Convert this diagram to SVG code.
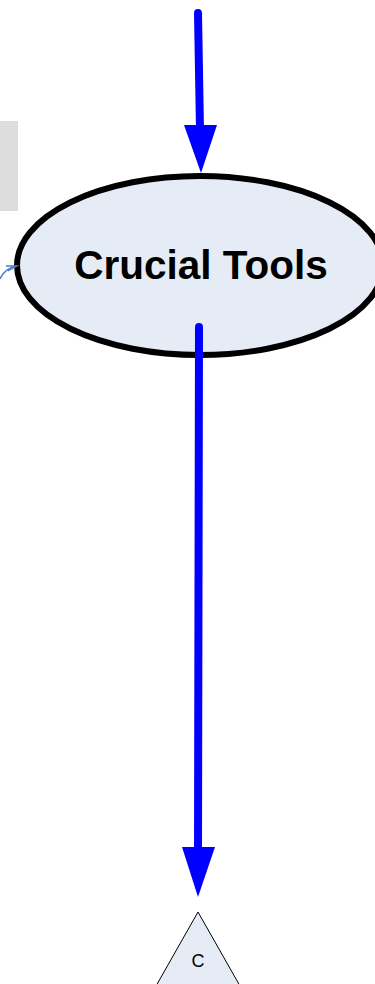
<svg xmlns="http://www.w3.org/2000/svg" width="375" height="984" viewBox="0 0 375 984">
<style>
.lbl{font-family:"Liberation Sans",Arial,sans-serif;fill:#000;text-anchor:middle}
.flow{stroke:#0000ff;stroke-width:8;stroke-linecap:round;fill:none}
.head{fill:#0000ff}
</style>
<rect width="375" height="984" fill="#ffffff"/>
<g id="side-box"><rect x="-2" y="121" width="20" height="90" fill="#dddddd"/></g>
<g id="crucial-tools">
<ellipse cx="200" cy="265.5" rx="183" ry="89.5" fill="#e6ecf6" stroke="#000" stroke-width="6"/>
<text class="lbl" x="201" y="279" font-size="40.5" font-weight="bold">Crucial Tools</text>
</g>
<g id="c-node">
<polygon points="198,912 240,986 156,986" fill="#e6ecf6" stroke="#000" stroke-width="1"/>
<text class="lbl" x="198" y="967" font-size="18">C</text>
</g>
<g id="connectors">
<line class="flow" x1="198" y1="13" x2="200" y2="130"/>
<polygon class="head" points="184,125 217,125 201,173"/>
<line class="flow" x1="199" y1="327" x2="198" y2="850"/>
<polygon class="head" points="182,847 215,847 198,897"/>
<path d="M0,279 Q5,268 17,266" stroke="#4a78c8" stroke-width="1.5" fill="none"/>
<path d="M6,266 L17,266 L8,271" stroke="#4a78c8" stroke-width="1.3" fill="none"/>
</g>
</svg>
